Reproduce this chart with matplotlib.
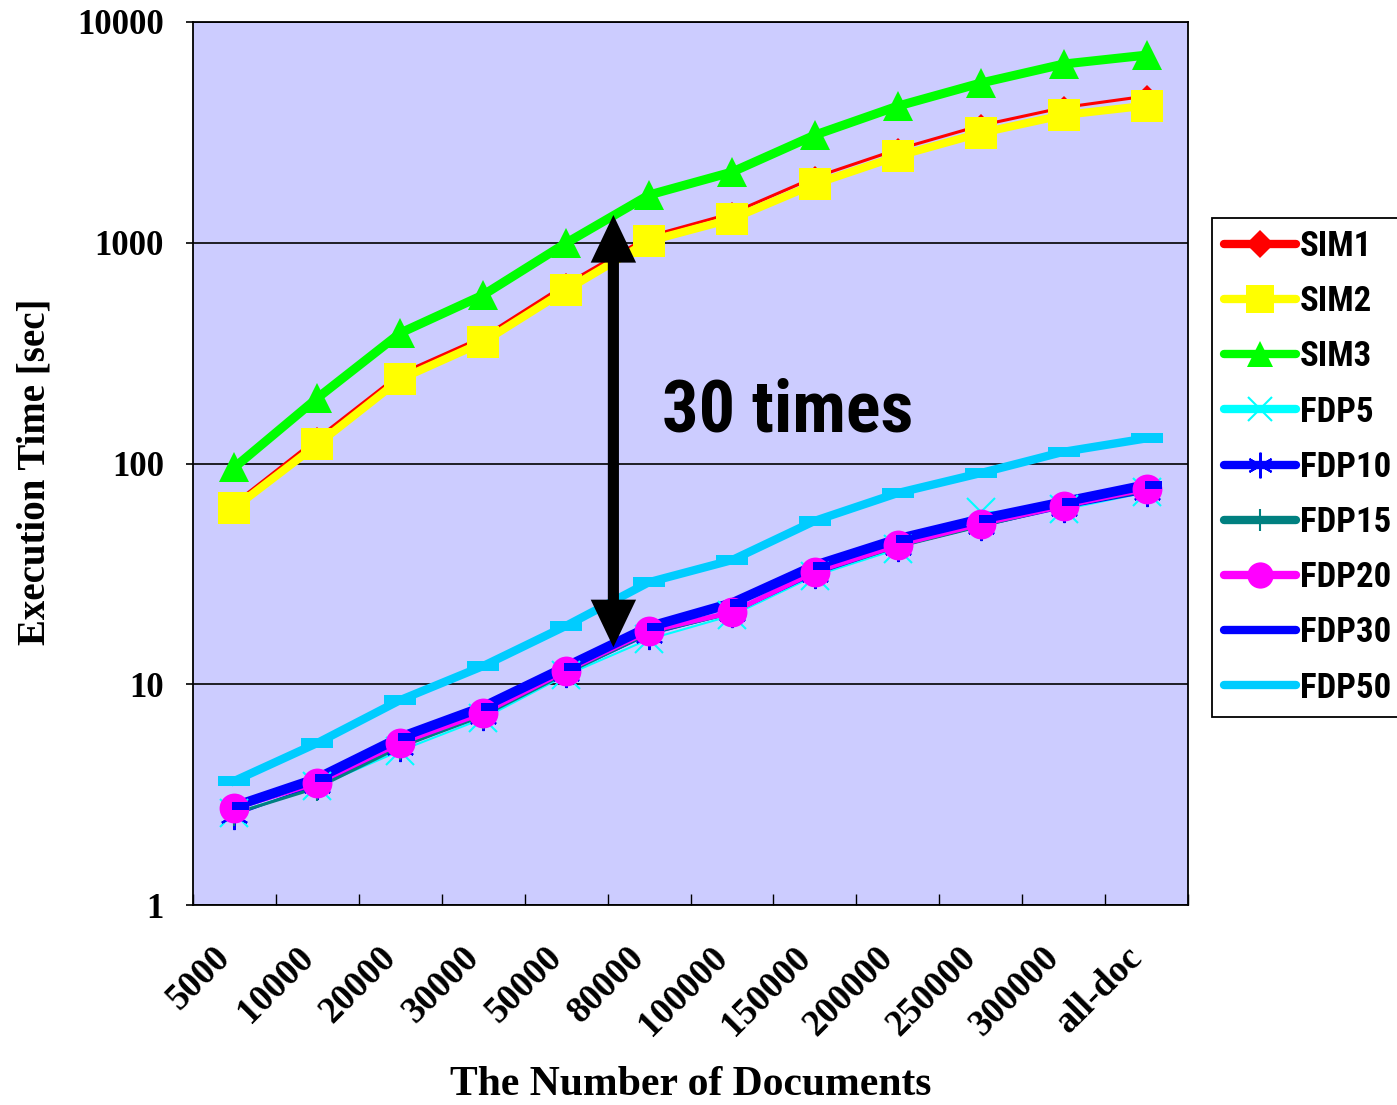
import matplotlib
matplotlib.use("Agg")
import matplotlib.pyplot as plt
from matplotlib import font_manager
from matplotlib.lines import Line2D
from matplotlib.markers import MarkerStyle
from matplotlib.path import Path
from matplotlib.transforms import ScaledTranslation
import numpy as np

# document counts on the x axis
docs = ["5000", "10000", "20000", "30000", "50000", "80000",
        "100000", "150000", "200000", "250000", "300000", "all-doc"]

# execution time in seconds
sim1 = [66, 130, 255, 375, 650, 1070, 1360, 1980, 2650, 3400, 4100, 4620]
sim2 = [63, 122, 241, 355, 611, 1018, 1282, 1845, 2470, 3140, 3790, 4180]
sim3 = [96, 198, 390, 580, 997, 1646, 2090, 3075, 4160, 5290, 6450, 7080]
fdp5 = [2.6, 3.45, 5.0, 7.0, 11.0, 16.0, 20.5, 31.0, 41.0, 60.0, 62.0, 74.0]
fdp10 = [2.55, 3.5, 5.2, 7.2, 11.2, 16.8, 21.0, 31.5, 42.0, 52.0, 63.0, 74.0]
fdp15 = [2.6, 3.4, 5.2, 7.2, 11.2, 17.0, 21.0, 32.0, 42.0, 52.0, 64.0, 75.0]
fdp20 = [2.75, 3.57, 5.42, 7.41, 11.5, 17.4, 21.2, 32.3, 42.7, 53.2, 64.2, 76.6]
fdp30 = [2.8, 3.75, 5.75, 7.9, 12.0, 18.2, 23.3, 34.5, 45.5, 56.0, 67.0, 80.0]
fdp50 = [3.65, 5.42, 8.48, 12.1, 18.4, 29.0, 36.5, 55.0, 73.5, 90.5, 113.0, 130.0]

y_ticks = [1, 10, 100, 1000, 10000]

SERIF = "Liberation Serif"

# pick a narrow bold sans if one is around, otherwise shrink the regular one
installed = {f.name for f in font_manager.fontManager.ttflist}
NARROW = None
for cand in ["Liberation Sans Narrow", "Arial Narrow", "Roboto Condensed"]:
    if cand in installed:
        NARROW = cand
        break
if NARROW:
    legend_size, note_size = 25, 52
else:
    NARROW = "Liberation Sans"
    legend_size, note_size = 21.5, 47

# short dash sitting to the right of the point, and a centred long dash
short_dash = MarkerStyle(Path([(-0.15, -0.25), (1, -0.25), (1, 0.25), (-0.15, 0.25), (-0.15, -0.25)],
                              closed=True))
long_dash = MarkerStyle(Path([(-1, -0.3), (1, -0.3), (1, 0.3), (-1, 0.3), (-1, -0.3)], closed=True))
asterisk = (6, 2, 0)

series = [
    # name, values, colour, line width, marker, marker size, edge width
    ("SIM1", sim1, "#FF0000", 2.2, "D", 11, 0),
    ("SIM2", sim2, "#FFFF00", 5.8, "s", 23, 0),
    ("SIM3", sim3, "#00FF00", 6.5, "^", 21.5, 0),
    ("FDP5", fdp5, "#00FFFF", 1.5, "x", 20, 1.5),
    ("FDP10", fdp10, "#0000FF", 1.5, asterisk, 21, 1.5),
    ("FDP15", fdp15, "#008080", 2.2, "|", 18, 1.5),
    ("FDP20", fdp20, "#FF00FF", 3.6, "o", 21.5, 0),
    ("FDP30", fdp30, "#0000FF", 7.0, short_dash, 21.5, 0),
    ("FDP50", fdp50, "#00CCFF", 6.0, long_dash, 23, 0),
]

fig = plt.figure(figsize=(13.97, 11.05), dpi=100)
ax = fig.add_axes([193 / 1397, 1 - 905 / 1105, 995 / 1397, 883 / 1105])
ax.set_facecolor("#CCCCFF")

x = np.arange(len(docs))

# lines first, then all markers on top (series order kept within each layer)
for i, (name, vals, col, lw, mk, ms, mew) in enumerate(series):
    ax.plot(x, vals, color=col, lw=lw, solid_joinstyle="miter", zorder=2 + i * 0.01)
for i, (name, vals, col, lw, mk, ms, mew) in enumerate(series):
    ax.plot(x, vals, ls="none", marker=mk, ms=ms, color=col, mfc=col, mec=col,
            mew=mew, zorder=3 + i * 0.01)

ax.set_yscale("log")
ax.set_ylim(1, 10000)
ax.set_xlim(-0.5, len(docs) - 0.5)

ax.yaxis.set_major_locator(matplotlib.ticker.FixedLocator(y_ticks))
ax.yaxis.set_minor_locator(matplotlib.ticker.NullLocator())
ax.set_yticklabels([str(v) for v in y_ticks], fontfamily=SERIF, fontweight="bold", fontsize=25)
ax.tick_params(axis="y", which="major", direction="out", length=5, width=1.2, pad=16)
ax.yaxis.grid(True, which="major", color="black", lw=1.2)
ax.set_axisbelow(True)

# category boundaries carry the tick marks, centres carry the labels
ax.set_xticks(np.arange(len(docs) + 1) - 0.5)
ax.set_xticklabels([])
ax.tick_params(axis="x", which="major", direction="in", length=8, width=1.0)
ax.set_xticks(x, docs, minor=True)
ax.tick_params(axis="x", which="minor", length=0, pad=25)
shift = ScaledTranslation(-22 / 100, 0, fig.dpi_scale_trans)
for lbl in ax.get_xticklabels(minor=True):
    lbl.set_rotation(45)
    lbl.set_ha("right")
    lbl.set_va("top")
    lbl.set_rotation_mode("anchor")
    lbl.set_fontfamily(SERIF)
    lbl.set_fontweight("bold")
    lbl.set_fontsize(26.5)
    lbl.set_transform(lbl.get_transform() + shift)

for sp in ax.spines.values():
    sp.set_color("black")
    sp.set_linewidth(1.3)

# double arrow marking the gap between SIM and FDP
ax.annotate("", xy=(4.57, 1336), xytext=(4.57, 14.7),
            arrowprops=dict(arrowstyle="<|-|>,head_length=2.1,head_width=1.0",
                            color="black", lw=8, shrinkA=0, shrinkB=0,
                            joinstyle="miter", capstyle="butt"),
            zorder=5)
ax.text(0.471, 0.536, "30 times", transform=ax.transAxes, ha="left", va="baseline",
        fontsize=note_size, fontweight="bold", family=NARROW, zorder=6)

fig.text(35 / 1397, 1 - 472 / 1105, "Execution Time [sec]", rotation=90,
         ha="center", va="center", fontfamily=SERIF, fontweight="bold", fontsize=28)
fig.text(691 / 1397, 1 - 1085 / 1105, "The Number of Documents",
         ha="center", va="center", fontfamily=SERIF, fontweight="bold", fontsize=30)

handles = []
for name, vals, col, lw, mk, ms, mew in series:
    scale = 1.25 if mk == "D" else 0.88
    handles.append(Line2D([], [], color=col, lw=6, solid_capstyle="round",
                          marker=mk, ms=ms * scale, mfc=col, mec=col, mew=mew))
em = legend_size / 0.72
leg = fig.legend(handles, [s[0] for s in series], loc="upper left",
                 bbox_to_anchor=(1212 / 1397, 1 - 218 / 1105),
                 frameon=True, fancybox=False, shadow=False, framealpha=1,
                 edgecolor="black", numpoints=1,
                 handlelength=72 / em, handletextpad=4 / em,
                 labelspacing=55 / em - 1.0 + 0.055, borderpad=12 / em,
                 borderaxespad=0, prop=dict(family=NARROW, weight="bold", size=legend_size))
leg.get_frame().set_linewidth(1.3)

fig.savefig("out.png", dpi=100)
